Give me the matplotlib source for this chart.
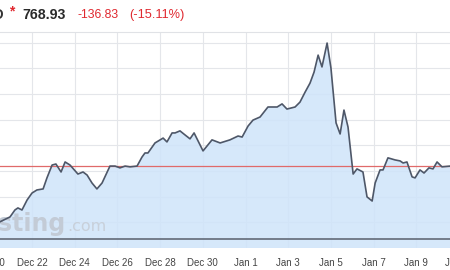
import matplotlib
matplotlib.use("Agg")
import matplotlib.pyplot as plt
from matplotlib.ticker import MultipleLocator

plt.rcParams['font.family'] = ['Liberation Sans', 'DejaVu Sans']

# days counted from Dec 20
days = [0.50, 0.97, 1.20, 1.34, 1.53, 1.77, 2.00, 2.23, 2.52, 2.70, 2.94, 3.12, 3.36, 3.55,
        3.78, 4.15, 4.39, 4.58, 4.81, 5.04, 5.28, 5.65, 5.89, 6.12, 6.36, 6.59, 6.92, 7.15,
        7.29, 7.43, 7.76, 8.14, 8.32, 8.56, 8.70, 8.93, 9.17, 9.40, 9.59, 10.01, 10.43, 10.81,
        11.27, 11.65, 11.84, 12.12, 12.35, 12.68, 13.05, 13.48, 13.71, 13.94, 14.32, 14.55,
        14.79, 15.02, 15.21, 15.40, 15.58, 15.82, 16.00, 16.24, 16.43, 16.61, 16.80, 17.04,
        17.22, 17.50, 17.69, 17.93, 18.07, 18.30, 18.44, 18.67, 19.00, 19.24, 19.38, 19.56,
        19.80, 19.94, 20.17, 20.36, 20.59, 20.78, 20.97, 21.20, 21.58]
prices = [552, 571, 598, 606, 598, 637, 664, 676, 680, 723, 773, 777, 746, 785,
          773, 738, 746, 734, 703, 680, 703, 769, 769, 762, 769, 766, 769, 804,
          820, 820, 859, 878, 863, 898, 898, 906, 890, 875, 898, 828, 871, 859,
          871, 886, 882, 925, 948, 960, 999, 999, 1011, 991, 999, 1018,
          1057, 1092, 1135, 1201, 1155, 1248, 1151, 937, 894, 987, 921, 738,
          758, 746, 649, 633, 703, 754, 754, 801, 793, 789, 781, 785,
          727, 723, 754, 742, 762, 758, 785, 766, 768.93]

tick_days = [0, 2, 4, 6, 8, 10, 12, 14, 16, 18, 20, 22]
tick_labels = ["Dec 20", "Dec 22", "Dec 24", "Dec 26", "Dec 28", "Dec 30",
               "Jan 1", "Jan 3", "Jan 5", "Jan 7", "Jan 9", "Jan 11"]

last_price = 768.93
change = "-136.83"
change_pct = "(-15.11%)"
low_line = 485

fig = plt.figure(figsize=(4.5, 2.7), dpi=100)
ax = fig.add_axes([-0.05, 1 - 248 / 270, 1.1, 216 / 270])
ax.set_xlim(-0.553, 22.63)
ax.set_ylim(450, 1291)

ax.fill_between(days, prices, 450, color="#cfe4fa", alpha=0.85, lw=0, zorder=2)
ax.plot(days, prices, color="#4e5768", lw=1.2, zorder=4)
ax.axhline(last_price, color="#e06a6a", lw=0.9, zorder=3)
ax.axhline(low_line, color="#59606c", lw=1.1, zorder=3)

ax.set_xticks(tick_days)
ax.set_xticklabels(tick_labels, fontsize=7, color="#444444")
ax.yaxis.set_major_locator(MultipleLocator(100, offset=50))
ax.set_yticklabels([])
ax.tick_params(length=0, pad=7)
ax.grid(True, color="#e4e6ea", lw=0.8, zorder=1)
ax.set_axisbelow(True)
for s in ["left", "right", "bottom"]:
    ax.spines[s].set_visible(False)
ax.spines["top"].set_color("#e0e2e6")
ax.spines["top"].set_linewidth(0.8)

# watermark
ax.text(66 / 495 + 22.5 / 495, 1 - (231 - 32) / 216, "Investing", transform=ax.transAxes,
        ha="right", va="baseline", fontsize=17, fontweight="bold", color="#c3cbd6",
        family="DejaVu Sans", zorder=2.5)
ax.text(67 / 495 + 22.5 / 495, 1 - (231 - 32) / 216, ".com", transform=ax.transAxes,
        ha="left", va="baseline", fontsize=11.5, color="#c8d0da",
        family="DejaVu Sans", zorder=2.5)

# header
fig.text(3.5 / 450, 1 - 15 / 270, "BTC/USD", ha="right", va="center",
         fontsize=10, fontweight="bold", color="#333333")
fig.text(12 / 450, 1 - 11 / 270, "*", ha="center", va="center",
         fontsize=10, fontweight="bold", color="#e0282f")
fig.text(22 / 450, 1 - 15 / 270, f"{last_price:.2f}", ha="left", va="center",
         fontsize=10.2, fontweight="bold", color="#2a2a2a")
fig.text(77 / 450, 1 - 15 / 270, change, ha="left", va="center",
         fontsize=8.8, color="#e0282f")
fig.text(129 / 450, 1 - 15 / 270, change_pct, ha="left", va="center",
         fontsize=9.2, color="#e0282f")

fig.savefig("out.png", dpi=100)
